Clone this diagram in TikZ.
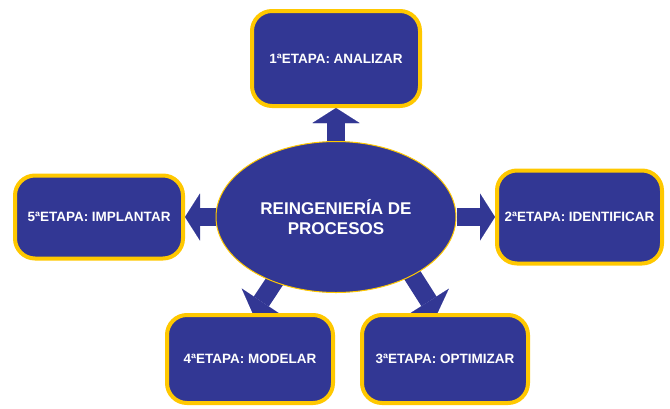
\documentclass[tikz,border=0pt]{standalone}
\usepackage{fontspec}
\setmainfont{Liberation Sans}
\usetikzlibrary{arrows.meta,backgrounds,shapes.geometric}
\definecolor{blu}{RGB}{50,55,148}
\definecolor{gld}{RGB}{255,200,0}
\begin{document}
\begin{tikzpicture}[x=1pt,y=-1pt,
  stage/.style={draw=gld, line width=4pt, fill=blu, rounded corners=20pt,
    text=white, font=\bfseries\fontsize{13.5}{16}\selectfont, inner sep=0pt},
  hub/.style={ellipse, draw=gld, line width=1pt, fill=blu, text=white,
    font=\bfseries\fontsize{17}{20.5}\selectfont, align=center, inner sep=0pt,
    minimum width=240pt, minimum height=151pt},
  bigarrow/.style={draw=blu, line width=18pt,
    -{Triangle[width=47pt,length=15pt,line width=0.01pt]}}]
\useasboundingbox (0,0) rectangle (670,408);
\node[hub] (ell) at (336,217) {REINGENIERÍA DE\\PROCESOS};
\node[stage, minimum width=168pt, minimum height=95pt] (b1) at (336,58.5) {1ªETAPA: ANALIZAR};
\node[stage, minimum width=165pt, minimum height=93pt] (b2) at (579.5,217) {2ªETAPA: IDENTIFICAR};
\node[stage, minimum width=166pt, minimum height=88pt] (b3) at (445,359) {3ªETAPA: OPTIMIZAR};
\node[stage, minimum width=166pt, minimum height=88pt] (b4) at (250,359) {4ªETAPA: MODELAR};
\node[stage, minimum width=168pt, minimum height=83pt] (b5) at (99,217) {5ªETAPA: IMPLANTAR};
\coordinate (s4) at (291.5,256);
\coordinate (t4) at (253,314);
\coordinate (s3) at (399.5,255);
\coordinate (t3) at (437,314);
\begin{scope}[on background layer]
\draw[bigarrow] (ell) -- (b1);
\draw[bigarrow] (ell) -- (b2);
\draw[bigarrow] (ell) -- (b5);
\draw[bigarrow] (s4) -- (t4);
\draw[bigarrow] (s3) -- (t3);
\end{scope}
\end{tikzpicture}
\end{document}
